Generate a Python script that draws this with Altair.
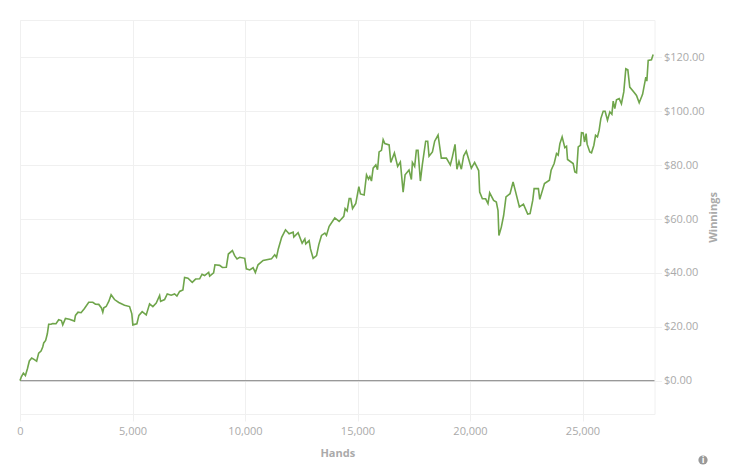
import altair as alt
import pandas as pd

hands = [0,60,150,240,330,415,520,640,740,830,935,1010,1055,1140,1215,1275,1380,1455,1600,1720,1840,1900,2020,2195,2420,2465,2580,2715,2865,3055,3235,3355,3500,3620,3680,3725,3830,3950,4050,4200,4390,4645,4870,4970,5015,5195,5285,5430,5610,5760,5905,6055,6205,6250,6425,6545,6720,6870,6975,7095,7240,7315,7465,7655,7805,7985,8090,8205,8385,8430,8605,8665,8875,8995,9170,9260,9440,9540,9645,9765,9990,10060,10210,10360,10460,10580,10805,11175,11320,11400,11480,11630,11800,11960,12140,12170,12360,12540,12660,12700,12850,12910,13030,13180,13280,13400,13550,13620,13740,13990,14185,14390,14450,14540,14630,14700,14780,14925,15060,15130,15295,15400,15490,15550,15620,15695,15815,15890,15960,16065,16140,16215,16405,16480,16640,16785,16905,17028,17115,17290,17395,17440,17540,17615,17690,17795,17880,18030,18120,18180,18330,18430,18580,18725,18950,19125,19215,19335,19420,19510,19615,19720,19835,20060,20205,20385,20430,20550,20695,20800,20875,21050,21170,21245,21285,21390,21495,21600,21780,21915,22195,22375,22565,22670,22790,22850,23040,23100,23310,23530,23605,23740,23845,23920,23995,24095,24215,24290,24335,24585,24660,24735,24810,24910,24955,25030,25090,25160,25205,25325,25400,25505,25580,25665,25740,25815,25920,26005,26110,26215,26305,26365,26435,26510,26630,26730,26835,26925,27015,27100,27280,27400,27520,27670,27815,27860,27920,28065,28140]
winnings = [0,1.4,2.8,1.9,4.4,7.3,8.4,7.8,7.2,10.2,11,12.5,14,14.9,17.4,20.9,20.9,21.2,21.1,22.6,22.3,20.7,23.1,22.8,22.1,24.2,25.4,25.2,26.8,29.1,29.1,28.4,28.3,27,25.4,27,27.5,29.5,31.9,30.1,29,28,27.5,24.8,20.7,21.1,24.2,25.6,24.4,28.5,27.5,28.8,31.6,29.4,30.1,32.2,31.7,32.2,31.4,33.1,33.7,38.3,38,36.5,37.7,37.8,39.5,39,40.2,38.8,40,43,42.8,42,42.1,47,48.3,46.4,45.2,45.8,45.4,41.5,41.1,41.9,40.1,43,44.6,45.2,46.7,45.8,48.9,53.2,56,54.5,55.1,53.3,54.9,51,52.6,50.8,52,48.9,45.4,46.4,50.5,53.9,54.8,53.9,57.3,60.4,59.1,61,63.9,63,67.6,67.6,63.9,65.8,72,69.3,68.9,76.4,74.8,75.8,74.1,78.9,80.1,78.3,84.9,85.5,89.5,88,87.5,81,84.5,79.5,81.2,70,76.4,78.2,74.7,81,79.5,85.5,85.5,74.1,80.1,88.9,88.9,83.3,84.9,88.9,91.2,82.6,82.6,80.1,83,87.7,78.5,81.4,78.5,83.5,85.2,78.9,81,78,70,67.5,67.5,65.7,69.7,66.9,66.3,63.1,53.9,56.9,61.3,68.2,69.4,73.8,64.5,65.5,61.8,62,67,71.3,71.3,67.3,73.2,74.4,78.1,80.6,84.3,83.7,88,90.5,86.5,87,82.1,80.6,77.5,77.2,86.8,87.4,92.1,92,88.6,91.7,87.8,84.9,84.6,87.4,91.1,90.5,93,97.3,100,100,96.7,99.8,98.9,103.8,101,104.3,104.7,102.8,107.2,115.8,115.4,109,107.2,105.9,103.2,106.3,112.7,111.2,118.9,119.1,121.1]
x_ticks = [0,5000,10000,15000,20000,25000]
y_ticks = [0,20,40,60,80,100,120]

df = pd.DataFrame({"Hands": hands, "Winnings": winnings})
FONT = "Open Sans"
x_scale = alt.Scale(domain=[0,28200], nice=False, zero=False)
y_scale = alt.Scale(domain=[-12.4,133.9], nice=False, zero=False)

line = alt.Chart(df).mark_line(color="#6fa54b", strokeWidth=1.6, interpolate="linear").encode(
    x=alt.X("Hands:Q", scale=x_scale, axis=alt.Axis(
        values=x_ticks, format=",.0f", title="Hands", grid=True, gridColor="#f0f0f0", domain=False,
        tickColor="#f0f0f0", tickSize=7, labelColor="#aaaaaa", labelFont=FONT, labelFontSize=11,
        labelPadding=4, labelFlush=False, titleColor="#aaaaaa", titleFont=FONT, titleFontSize=11,
        titleFontWeight="bold", titlePadding=11, labelOverlap=False)),
    y=alt.Y("Winnings:Q", scale=y_scale, axis=alt.Axis(
        orient="right", values=y_ticks, format="$,.2f", title="Winnings", grid=True, gridColor="#f0f0f0",
        domain=False, tickColor="#f0f0f0", tickSize=7, labelColor="#aaaaaa", labelFont=FONT,
        labelFontSize=11, labelPadding=2, labelFlush=False, titleColor="#aaaaaa", titleFont=FONT,
        titleFontSize=11, titleFontWeight="bold", titleAngle=270, titleX=59, titleY=197,
        titleAlign="center", titleBaseline="middle")),
)
zero = alt.Chart(pd.DataFrame({"z":[0]})).mark_rule(color="#999999", strokeWidth=1.2).encode(
    y=alt.Y("z:Q", scale=y_scale))
icon = alt.Chart(pd.DataFrame({"a":[0]})).mark_point(filled=True, color="#999999", size=85, opacity=1).encode(
    x=alt.value(683), y=alt.value(440))
icon_i = alt.Chart(pd.DataFrame({"a":[0]})).mark_text(text="i", color="#ffffff", font=FONT, fontSize=9, fontWeight="bold", baseline="middle").encode(
    x=alt.value(683), y=alt.value(440))

chart = alt.layer(zero, line, icon, icon_i).properties(
    width=634.5, height=394,
    padding={"left":12,"top":12,"right":66,"bottom":52},
    autosize=alt.AutoSizeParams(type="none"),
).configure_view(stroke="#f0f0f0", strokeWidth=1)
chart.save("out.html", embed_options={"renderer":"svg","actions":False})
